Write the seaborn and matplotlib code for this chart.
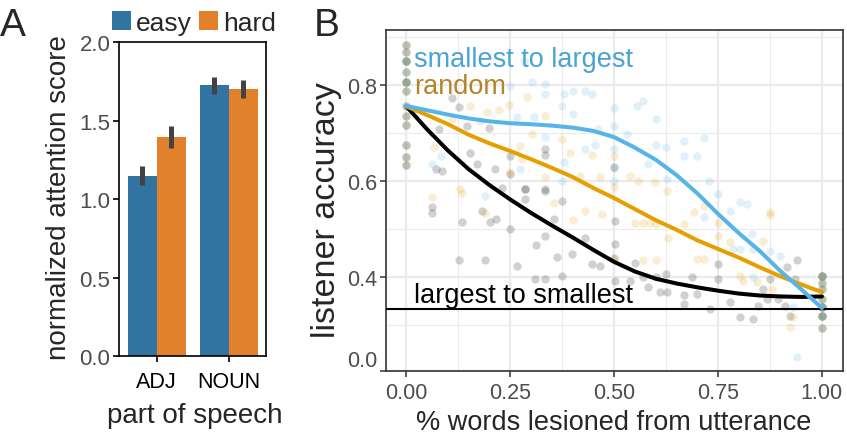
import numpy as np
import pandas as pd
import matplotlib
matplotlib.use("Agg")
import matplotlib.pyplot as plt
import seaborn as sns
from matplotlib.patches import Patch
from matplotlib.ticker import FixedLocator

# ---------------- Panel A data ----------------
pos_categories = ["ADJ", "NOUN"]
difficulty_levels = ["easy", "hard"]
attn_easy = [1.150, 1.725]
attn_hard = [1.397, 1.705]
attn_err_easy = [0.062, 0.056]
attn_err_hard = [0.070, 0.058]
a_yticks = [0.0, 0.5, 1.0, 1.5, 2.0]

# ---------------- Panel B data ----------------
# smooth fits
curve_x = [0.0, 0.05, 0.1, 0.15, 0.2, 0.25, 0.3, 0.35, 0.4, 0.45, 0.5,
           0.55, 0.6, 0.65, 0.7, 0.75, 0.8, 0.85, 0.9, 0.95, 1.0]
curve_small_to_large = [0.757, 0.748, 0.739, 0.731, 0.725, 0.721, 0.719, 0.716, 0.712, 0.705, 0.692,
                        0.670, 0.645, 0.613, 0.575, 0.532, 0.492, 0.455, 0.413, 0.375, 0.336]
curve_random = [0.756, 0.738, 0.719, 0.697, 0.679, 0.663, 0.646, 0.628, 0.609, 0.586, 0.565,
                0.542, 0.519, 0.499, 0.477, 0.459, 0.441, 0.421, 0.402, 0.385, 0.369]
curve_large_to_small = [0.756, 0.708, 0.664, 0.625, 0.592, 0.562, 0.534, 0.508, 0.483, 0.457, 0.432,
                        0.412, 0.397, 0.387, 0.379, 0.372, 0.366, 0.362, 0.360, 0.359, 0.360]
chance_level = 1 / 3

# points at 0% and 100% lesioned (shared by all orderings)
start_y = [0.885, 0.869, 0.851, 0.851, 0.828, 0.808, 0.808, 0.789, 0.756, 0.737, 0.717, 0.676, 0.650, 0.634]
end_y = [0.403, 0.403, 0.388, 0.376, 0.355, 0.3375, 0.3375, 0.320, 0.320, 0.294]

gray_x = [0.11, 0.126, 0.146, 0.198, 0.078, 0.154, 0.07, 0.086, 0.17, 0.214, 0.25, 0.25, 0.286, 0.23,
          0.062, 0.062, 0.134, 0.182, 0.2, 0.216, 0.25, 0.126, 0.188, 0.266,
          0.334, 0.334, 0.50, 0.286, 0.334,
          0.286, 0.334, 0.374, 0.3125, 0.334, 0.354, 0.43, 0.398, 0.362, 0.446, 0.466, 0.502, 0.502,
          0.502, 0.538, 0.582, 0.611, 0.627, 0.667, 0.667, 0.687, 0.31, 0.334, 0.374, 0.57, 0.60,
          0.625, 0.55, 0.50,
          0.699, 0.731, 0.751, 0.751, 0.779, 0.803, 0.835, 0.847, 0.857, 0.875, 0.895, 0.915, 0.911,
          0.923, 0.935, 0.939, 0.867]
gray_y = [0.774, 0.754, 0.716, 0.712, 0.709, 0.660, 0.626, 0.622, 0.636, 0.626, 0.615, 0.653, 0.584, 0.587,
          0.546, 0.534, 0.516, 0.539, 0.516, 0.521, 0.500, 0.435, 0.435, 0.424,
          0.667, 0.655, 0.629, 0.583, 0.583,
          0.563, 0.580, 0.560, 0.467, 0.487, 0.521, 0.481, 0.449, 0.442, 0.428, 0.424, 0.518, 0.469,
          0.393, 0.393, 0.379, 0.369, 0.369, 0.362, 0.344, 0.400, 0.396, 0.396, 0.402, 0.400, 0.400,
          0.407, 0.430, 0.440,
          0.365, 0.334, 0.428, 0.396, 0.348, 0.317, 0.313, 0.341, 0.376, 0.396, 0.355, 0.421, 0.341,
          0.320, 0.396, 0.435, 0.355]

orange_x = [0.154, 0.11, 0.194, 0.222, 0.246, 0.066, 0.13, 0.062, 0.278, 0.25, 0.134, 0.19,
            0.334, 0.302, 0.374, 0.394, 0.446, 0.50, 0.418, 0.466, 0.50, 0.538, 0.558, 0.599, 0.627,
            0.334, 0.274, 0.29,
            0.354, 0.43, 0.47, 0.55, 0.57, 0.585, 0.60, 0.63, 0.667, 0.60, 0.50, 0.57, 0.40,
            0.715, 0.691, 0.751, 0.751, 0.779, 0.875, 0.859, 0.699, 0.715, 0.803, 0.811, 0.843,
            0.879, 0.931, 0.923, 0.875]
orange_y = [0.758, 0.730, 0.744, 0.749, 0.759, 0.671, 0.584, 0.567, 0.646, 0.619, 0.576, 0.534,
            0.737, 0.699, 0.688, 0.660, 0.655, 0.653, 0.612, 0.608, 0.588, 0.612, 0.601, 0.598, 0.580,
            0.608, 0.674, 0.775,
            0.555, 0.539, 0.532, 0.514, 0.514, 0.514, 0.510, 0.482, 0.510, 0.436, 0.436, 0.436, 0.520,
            0.549, 0.535, 0.487, 0.514, 0.473, 0.535, 0.476, 0.438, 0.438, 0.403, 0.393, 0.390,
            0.376, 0.317, 0.296, 0.530]

blue_x = [0.282, 0.25, 0.178, 0.266, 0.082, 0.062, 0.274, 0.188,
          0.302, 0.334, 0.334, 0.402, 0.43, 0.446, 0.378, 0.374, 0.40, 0.50, 0.50, 0.555, 0.57, 0.601,
          0.308, 0.462, 0.53, 0.43, 0.454, 0.50, 0.601, 0.625, 0.667, 0.667, 0.582, 0.627, 0.50, 0.50,
          0.378, 0.334, 0.374,
          0.715, 0.70, 0.728, 0.751,
          0.715, 0.779, 0.803, 0.819, 0.831, 0.787, 0.803, 0.835, 0.875, 0.899, 0.835, 0.931, 0.939]
blue_y = [0.851, 0.799, 0.726, 0.733, 0.653, 0.636, 0.626, 0.569,
          0.806, 0.803, 0.782, 0.789, 0.789, 0.782, 0.782, 0.756, 0.740, 0.752, 0.715, 0.756, 0.768, 0.730,
          0.733, 0.709, 0.699, 0.667, 0.676, 0.667, 0.676, 0.671, 0.683, 0.653, 0.636, 0.605, 0.627, 0.600,
          0.640, 0.692, 0.601,
          0.690, 0.653, 0.601, 0.574,
          0.525, 0.539, 0.556, 0.553, 0.490, 0.459, 0.459, 0.459, 0.455, 0.445, 0.400, 0.3375, 0.233]

b_xticks = [0.0, 0.25, 0.5, 0.75, 1.0]
b_xticklabels = ["0.00", "0.25", "0.50", "0.75", "1.00"]
b_xminor = [0.125, 0.375, 0.625, 0.875]
b_yticks = [0.4, 0.6, 0.8]
b_yticklabels = ["0.4", "0.6", "0.8"]
b_yminor = [0.3, 0.5, 0.7, 0.9]
b_ylim = (0.204, 0.916)
b_xlim = (-0.05, 1.05)

# ---------------- style ----------------
sns.set_style("white")
plt.rcParams["font.family"] = ["Liberation Sans", "DejaVu Sans"]

C_SMALL = "#56B4E9"
C_RAND = "#E69F00"
C_LARGE = "#000000"
TXT_SMALL = "#4AA3D3"
TXT_RAND = "#B5832A"
GRID = "#EBEBEB"
TICKGRAY = "#4D4D4D"

fig = plt.figure(figsize=(8.47, 4.35), dpi=100)
W, H = 847.0, 435.0


def rect(l, t, r, b):
    return [l / W, 1 - b / H, (r - l) / W, (b - t) / H]


# ================= Panel A =================
axA = fig.add_axes(rect(119.3, 43.3, 265.7, 357.3))
dfA = pd.DataFrame({
    "pos": pos_categories * 2,
    "difficulty": [difficulty_levels[0]] * 2 + [difficulty_levels[1]] * 2,
    "score": attn_easy + attn_hard,
})
base_pal = ["#1f77b4", "#ff7f0e"]
sns.barplot(data=dfA, x="pos", y="score", hue="difficulty", order=pos_categories,
            hue_order=difficulty_levels, palette=base_pal, saturation=0.75,
            errorbar=None, ax=axA, legend=False, linewidth=0)
errs = [attn_err_easy, attn_err_hard]
for cont, err in zip(axA.containers, errs):
    xs = [p.get_x() + p.get_width() / 2 for p in cont.patches]
    hs = [p.get_height() for p in cont.patches]
    axA.errorbar(xs, hs, yerr=err, fmt="none", ecolor="#424242", elinewidth=3.6, capsize=0, zorder=3)

axA.set_ylim(0, 2.0)
axA.set_xlim(-0.52, 1.51)
axA.set_yticks(a_yticks)
axA.set_yticklabels(["0.0", "0.5", "1.0", "1.5", "2.0"])
axA.set_xlabel("")
axA.set_ylabel("")
for s in axA.spines.values():
    s.set_visible(True)
    s.set_color("black")
    s.set_linewidth(1.2)
axA.tick_params(axis="y", direction="out", length=4.3, width=1.2, color="black",
                labelsize=16, labelcolor=TICKGRAY, pad=2.2, left=True)
axA.tick_params(axis="x", direction="out", length=4.3, width=1.2, color="black",
                labelsize=15.5, labelcolor="black", pad=6, bottom=True)

desat = [sns.desaturate(c, 0.75) for c in base_pal]
handles = [Patch(facecolor=desat[i], edgecolor="none", label=difficulty_levels[i]) for i in range(2)]
fig.legend(handles=handles, loc="center", bbox_to_anchor=(194 / W, 1 - 24 / H), ncol=2,
           frameon=False, fontsize=19, handlelength=0.72, handleheight=0.72,
           handletextpad=0.2, columnspacing=0.25, borderpad=0, borderaxespad=0)

fig.text(59 / W, 1 - 198 / H, "normalized attention score", rotation=90,
         ha="center", va="center", fontsize=20)
fig.text(195 / W, 1 - 416 / H, "part of speech", ha="center", va="center", fontsize=20)
fig.text(0 / W, 1 - 36 / H, "A", ha="left", va="baseline", fontsize=28)

# ================= Panel B =================
axB = fig.add_axes(rect(385.7, 30.7, 842.7, 372.3))
axB.set_axisbelow(True)

pt_kw = dict(s=36, linewidth=0, alpha=0.18, ax=axB, legend=False)
all_gray_x = [0.0] * len(start_y) + gray_x + [1.0] * len(end_y)
all_gray_y = start_y + gray_y + end_y
all_orange_x = [0.0] * len(start_y) + orange_x + [1.0] * len(end_y)
all_orange_y = start_y + orange_y + end_y
all_blue_x = [0.0] * len(start_y) + blue_x + [1.0] * len(end_y)
all_blue_y = start_y + blue_y + end_y
sns.scatterplot(x=all_gray_x, y=all_gray_y, color="#000000", **pt_kw)
sns.scatterplot(x=all_orange_x, y=all_orange_y, color=C_RAND, **pt_kw)
sns.scatterplot(x=all_blue_x, y=all_blue_y, color=C_SMALL, **pt_kw)

axB.axhline(chance_level, color="black", lw=1.5, zorder=4)
sns.lineplot(x=curve_x, y=curve_large_to_small, color=C_LARGE, lw=2.9, ax=axB, zorder=5)
sns.lineplot(x=curve_x, y=curve_random, color=C_RAND, lw=2.9, ax=axB, zorder=5)
sns.lineplot(x=curve_x, y=curve_small_to_large, color=C_SMALL, lw=2.9, ax=axB, zorder=6)

axB.set_xlim(*b_xlim)
axB.set_ylim(*b_ylim)
axB.set_xticks(b_xticks)
axB.set_xticklabels(b_xticklabels)
axB.xaxis.set_minor_locator(FixedLocator(b_xminor))
axB.set_yticks([b_ylim[0]] + b_yticks)
axB.set_yticklabels([""] + b_yticklabels)
axB.yaxis.set_minor_locator(FixedLocator(b_yminor))
axB.grid(which="major", color=GRID, lw=1.6)
axB.grid(which="minor", color=GRID, lw=0.8)
axB.tick_params(which="minor", length=0)
axB.tick_params(which="major", direction="out", length=4.1, width=1.1, color="#333333",
                labelsize=15.5, labelcolor=TICKGRAY, pad=2.2, left=True, bottom=True)
axB.tick_params(axis="x", pad=3.4)
for s in axB.spines.values():
    s.set_visible(True)
    s.set_color("#333333")
    s.set_linewidth(1.2)
axB.set_xlabel("")
axB.set_ylabel("")
axB.annotate("0.0", xy=(0, b_ylim[0]), xycoords=("axes fraction", "data"),
             xytext=(-6.3, 8.1), textcoords="offset points", ha="right", va="center",
             fontsize=15.5, color=TICKGRAY, annotation_clip=False)

axB.text(0.019, 0.840, "smallest to largest", color=TXT_SMALL, fontsize=19.5, ha="left", va="baseline")
axB.text(0.019, 0.785, "random", color=TXT_RAND, fontsize=19.5, ha="left", va="baseline")
axB.text(0.019, 0.348, "largest to smallest", color="black", fontsize=19.5, ha="left", va="baseline")

fig.text(614 / W, 1 - 430 / H, "% words lesioned from utterance", ha="center", va="baseline", fontsize=19.5)
fig.text(326 / W, 1 - 210 / H, "listener accuracy", rotation=90, ha="center", va="center", fontsize=24.5)
fig.text(314 / W, 1 - 36 / H, "B", ha="left", va="baseline", fontsize=28)

fig.savefig("out.png", dpi=100)
